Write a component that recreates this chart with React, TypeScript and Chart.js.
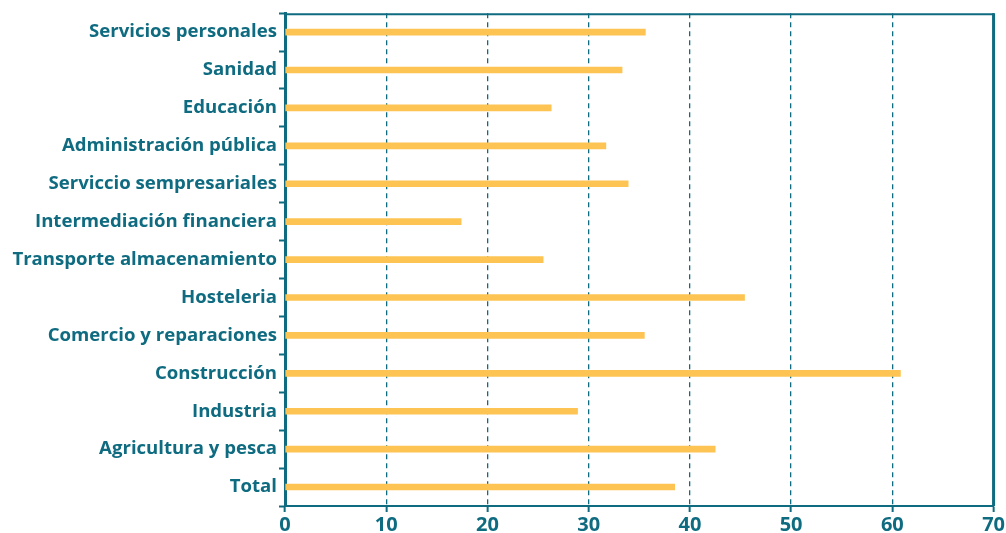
import React, { useEffect, useRef } from "react";
import { Chart, registerables } from "chart.js";

Chart.register(...registerables);

const categories = [
  "Servicios personales",
  "Sanidad",
  "Educación",
  "Administración pública",
  "Serviccio sempresariales",
  "Intermediación financiera",
  "Transporte almacenamiento",
  "Hosteleria",
  "Comercio y reparaciones",
  "Construcción",
  "Industria",
  "Agricultura y pesca",
  "Total",
];

const values = [35.6, 33.3, 26.3, 31.7, 33.9, 17.4, 25.5, 45.4, 35.5, 60.8, 28.9, 42.5, 38.5];

const xTicks = [0, 10, 20, 30, 40, 50, 60, 70];

const TEAL = "#0f6b80";
const BAR = "#fdc453";

const borderPlugin = {
  id: "frameBorder",
  afterDraw(chart: any) {
    const { ctx, chartArea } = chart;
    ctx.save();
    ctx.strokeStyle = TEAL;
    ctx.setLineDash([]);
    ctx.lineWidth = 2;
    ctx.beginPath();
    ctx.moveTo(chartArea.left, chartArea.top + 1);
    ctx.lineTo(chartArea.right, chartArea.top + 1);
    ctx.stroke();
    ctx.lineWidth = 3;
    ctx.beginPath();
    ctx.moveTo(chartArea.right, chartArea.top);
    ctx.lineTo(chartArea.right, chartArea.bottom);
    ctx.stroke();
    ctx.restore();
  },
};

export default function App() {
  const ref = useRef<HTMLCanvasElement>(null);
  useEffect(() => {
    document.body.style.margin = "0";
    const chart = new Chart(ref.current!, {
      type: "bar",
      data: {
        labels: categories,
        datasets: [
          {
            data: values,
            backgroundColor: BAR,
            barThickness: 6,
            borderWidth: 0,
          },
        ],
      },
      options: {
        indexAxis: "y",
        animation: false,
        responsive: false,
        maintainAspectRatio: false,
        layout: { padding: { top: 12, right: 12, left: 0, bottom: 0 } },
        plugins: { legend: { display: false }, tooltip: { enabled: false } },
        scales: {
          x: {
            min: 0,
            max: 70,
            afterBuildTicks: (scale: any) => {
              scale.ticks = xTicks.map((v) => ({ value: v }));
            },
            afterFit: (scale: any) => {
              scale.height = 27;
            },
            border: { display: true, color: TEAL, width: 2, dash: [5, 4] },
            grid: {
              color: TEAL,
              lineWidth: 1.3,
              tickLength: 6,
              tickColor: TEAL,
              tickWidth: 2,
              tickBorderDash: [],
            },
            ticks: {
              color: TEAL,
              padding: 1,
              font: { family: "Open Sans", weight: "bold", size: 20 },
            },
          },
          y: {
            afterFit: (scale: any) => {
              scale.width = 285;
            },
            border: { display: true, color: TEAL, width: 3 },
            grid: {
              offset: true,
              drawOnChartArea: false,
              tickLength: 6,
              tickColor: TEAL,
              tickWidth: 2,
            },
            ticks: {
              color: TEAL,
              padding: 2,
              font: { family: "Open Sans", weight: "bold", size: 18.6 },
            },
          },
        },
      },
      plugins: [borderPlugin],
    } as any);
    return () => chart.destroy();
  }, []);
  return (
    <div style={{ width: 1006, height: 533 }}>
      <canvas ref={ref} width={1006} height={533} style={{ width: 1006, height: 533 }} />
    </div>
  );
}
